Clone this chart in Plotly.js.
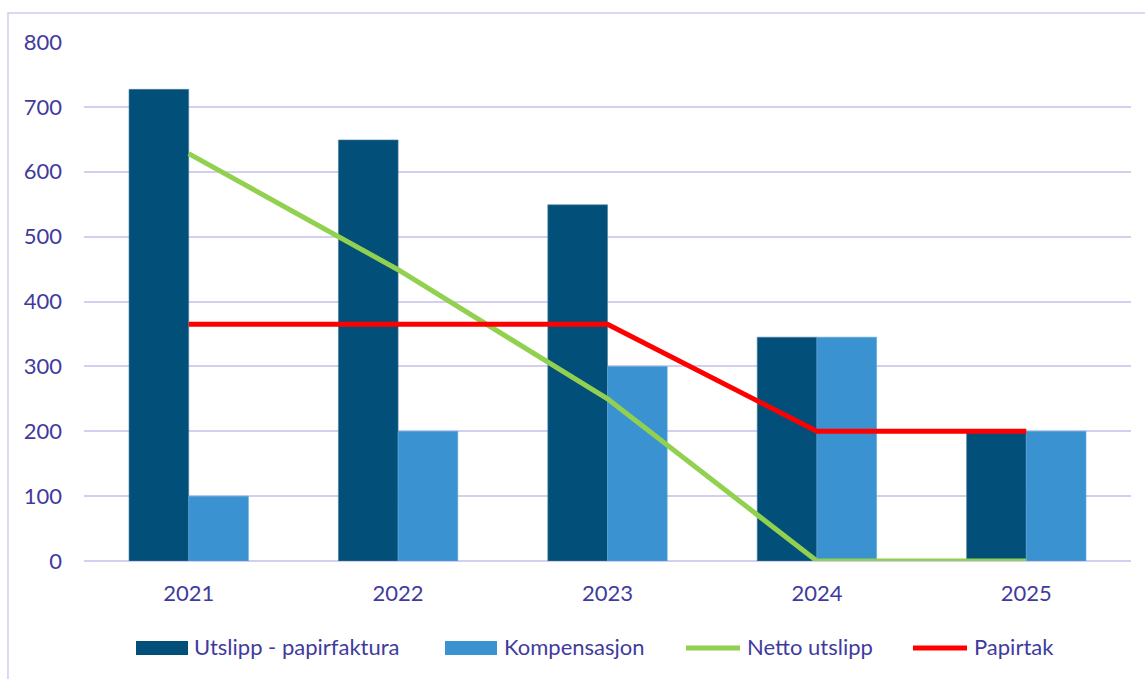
<!DOCTYPE html>
<html>
<head>
<meta charset="utf-8">
<script src="https://cdn.plot.ly/plotly-3.0.1.min.js"></script>
<style>html,body{margin:0;padding:0;background:#fff;}#chart{width:1145px;height:679px;}</style>
</head>
<body>
<div id="chart"></div>
<script>
var years = ['2021', '2022', '2023', '2024', '2025'];
var utslipp = [727, 649, 549, 345, 200];
var kompensasjon = [100, 200, 300, 345, 200];
var netto = [628, 449, 250, 0, 0];
var papirtak = [365, 365, 365, 200, 200];
var yTicks = [0, 100, 200, 300, 400, 500, 600, 700, 800];
var seriesNames = ['Utslipp - papirfaktura', 'Kompensasjon', 'Netto utslipp', 'Papirtak'];
var seriesColors = ['#02507a', '#3a93d0', '#92d050', '#ff0000'];

var textColor = '#3f3b9e';
var gridColor = '#d3cff0';
var fontFam = 'Lato, "Open Sans", sans-serif';

var data = [
  {type: 'bar', name: seriesNames[0], x: years, y: utslipp,
   marker: {color: seriesColors[0], line: {color: '#4a7f9e', width: 0.6}}},
  {type: 'bar', name: seriesNames[1], x: years, y: kompensasjon,
   marker: {color: seriesColors[1], line: {color: '#5aa6da', width: 0.6}}},
  {type: 'scatter', mode: 'lines', name: seriesNames[2], x: years, y: netto,
   line: {color: seriesColors[2], width: 5}},
  {type: 'scatter', mode: 'lines', name: seriesNames[3], x: years, y: papirtak,
   line: {color: seriesColors[3], width: 5}}
];

// plot area in pixels: left 84, width 1047, top 42, height 519
function px(x) { return (x - 84) / 1047; }
function py(y) { return (561 - y) / 519; }

// custom legend (symbols + labels)
var legendItems = [
  {kind: 'rect', x0: 136, x1: 188, tx: 192},
  {kind: 'rect', x0: 445, x1: 497, tx: 502},
  {kind: 'line', x0: 686, x1: 740, tx: 745},
  {kind: 'line', x0: 913, x1: 967, tx: 972}
];
var shapes = [
  {type: 'rect', xref: 'paper', yref: 'paper', x0: -0.0726, x1: 1.03, y0: -0.26, y1: 1.0559,
   line: {color: '#d0ccee', width: 1.5}, fillcolor: 'rgba(0,0,0,0)', layer: 'below'}
];
var annotations = [];
legendItems.forEach(function (it, i) {
  if (it.kind === 'rect') {
    shapes.push({type: 'rect', xref: 'paper', yref: 'paper', x0: px(it.x0), x1: px(it.x1),
      y0: py(655), y1: py(641), fillcolor: seriesColors[i], line: {width: 0}});
  } else {
    shapes.push({type: 'line', xref: 'paper', yref: 'paper', x0: px(it.x0), x1: px(it.x1),
      y0: py(648), y1: py(648), line: {color: seriesColors[i], width: 5}});
  }
  annotations.push({xref: 'paper', yref: 'paper', x: px(it.tx), y: py(646), xanchor: 'left',
    yanchor: 'middle', showarrow: false, text: seriesNames[i],
    font: {family: fontFam, size: 22, color: textColor}});
});

var layout = {
  width: 1145, height: 679,
  margin: {l: 84, r: 14, t: 42, b: 118},
  paper_bgcolor: '#ffffff', plot_bgcolor: '#ffffff',
  font: {family: fontFam, size: 22, color: textColor},
  barmode: 'group', bargap: 0.43, bargroupgap: 0,
  showlegend: false,
  xaxis: {type: 'category', showgrid: false, zeroline: false, showline: false, ticks: '',
          tickfont: {family: fontFam, size: 22, color: textColor}, ticklabelstandoff: 17},
  yaxis: {range: [0, 800], tickvals: yTicks, ticktext: yTicks.map(String), showgrid: true,
          gridcolor: gridColor, gridwidth: 2, zeroline: true, zerolinecolor: gridColor,
          zerolinewidth: 2, showline: false, ticks: '',
          tickfont: {family: fontFam, size: 22, color: textColor}, ticklabelstandoff: 21},
  shapes: shapes,
  annotations: annotations
};

Plotly.newPlot('chart', data, layout, {displayModeBar: false, staticPlot: true});
</script>
</body>
</html>
